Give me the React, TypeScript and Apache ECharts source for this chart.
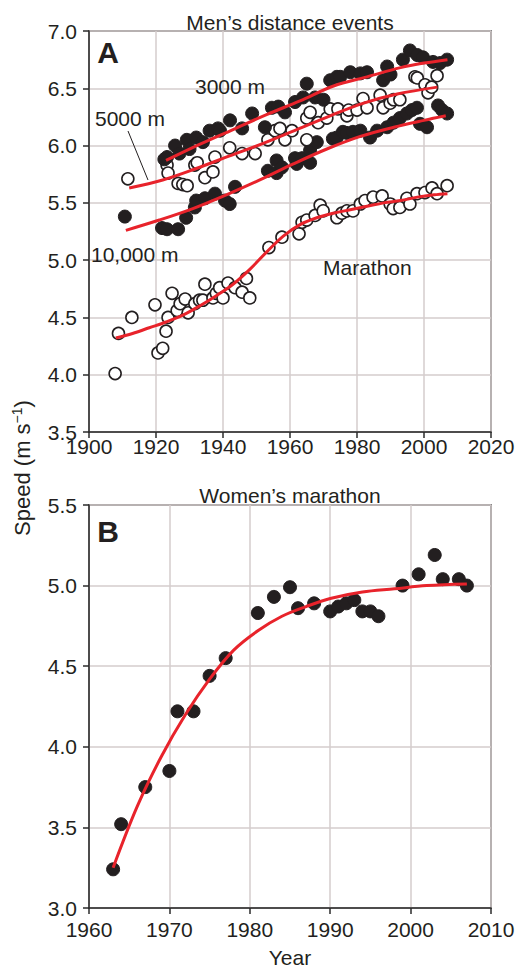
import React, { useEffect, useRef } from 'react';
import * as echarts from 'echarts';

const FONT = '"Liberation Sans", Arial, Helvetica, sans-serif';
const INK = '#231f20';
const RED = '#e8232b';

// Panel A: men's distance events (year, speed m/s)
const men3000: [number, number][] = [
  [1922.5, 5.88], [1923.3, 5.90], [1925.7, 6.00], [1927, 5.93], [1929.2, 6.05], [1930, 5.97],
  [1932, 6.07], [1934, 6.03], [1936, 6.13], [1938.5, 6.15], [1939.1, 6.13], [1942.1, 6.22],
  [1945.7, 6.15], [1948.7, 6.28], [1952.5, 6.16], [1954.6, 6.33], [1956.5, 6.34], [1958.5, 6.29],
  [1961.5, 6.38], [1963.9, 6.42], [1965, 6.54], [1967.5, 6.42], [1970, 6.40], [1972, 6.57],
  [1974, 6.60], [1975, 6.60], [1978, 6.64], [1981, 6.63], [1983, 6.64], [1987.8, 6.57],
  [1989, 6.69], [1990, 6.62], [1993.7, 6.75], [1995.8, 6.83], [1998, 6.79], [1999.7, 6.77],
  [2002.7, 6.73], [2004.8, 6.72], [2006.9, 6.75],
];
const men5000: [number, number][] = [
  [1911.6, 5.71], [1923.3, 5.83], [1923.6, 5.76], [1926.6, 5.67], [1928, 5.66], [1929.3, 5.65],
  [1931.6, 5.83], [1932.3, 5.85], [1934.6, 5.72], [1937, 5.77], [1937.6, 5.90], [1942, 5.98],
  [1945.7, 5.93], [1949.6, 5.93], [1953.4, 6.05], [1955.5, 6.13], [1957, 6.15], [1958.5, 6.05],
  [1960.6, 6.13], [1965, 6.05], [1965, 6.24], [1966, 6.29], [1968.4, 6.20], [1971, 6.24],
  [1972, 6.32], [1974.3, 6.32], [1977, 6.26], [1977.5, 6.31], [1980, 6.31], [1981.8, 6.41],
  [1983, 6.33], [1986.9, 6.44], [1987.8, 6.33], [1989.9, 6.37], [1990.9, 6.40], [1992.8, 6.40],
  [1997.3, 6.60], [1998, 6.59], [2000.3, 6.53], [2001.2, 6.46], [2002.3, 6.51], [2003.9, 6.61],
];
const men10000: [number, number][] = [
  [1910.7, 5.38], [1921.8, 5.28], [1923.3, 5.27], [1926.6, 5.27], [1929, 5.37], [1931.6, 5.46],
  [1932, 5.52], [1934.6, 5.54], [1937.6, 5.58], [1940.6, 5.52], [1942, 5.49], [1943.6, 5.64],
  [1953.4, 5.78], [1956, 5.76], [1956, 5.87], [1957.6, 5.81], [1961.5, 5.89], [1962, 5.84],
  [1963.6, 5.89], [1966, 5.85], [1966, 5.96], [1968, 6.03], [1972.8, 6.06], [1974, 6.07],
  [1975.8, 6.12], [1977, 6.11], [1978.8, 6.12], [1981, 6.13], [1983.9, 6.07], [1986, 6.13],
  [1989, 6.16], [1990.9, 6.20], [1992.8, 6.24], [1994.9, 6.28], [1996.4, 6.31], [1997.9, 6.33],
  [1998.8, 6.19], [2000.9, 6.16], [2004.2, 6.35], [2005.4, 6.31], [2006.9, 6.28],
];
const menMarathon: [number, number][] = [
  [1907.8, 4.01], [1908.8, 4.36], [1912.8, 4.50], [1919.7, 4.61], [1920.6, 4.19], [1922, 4.23],
  [1923, 4.38], [1923.6, 4.50], [1924.8, 4.71], [1926.3, 4.56], [1927.2, 4.62], [1928.7, 4.66],
  [1929.6, 4.54], [1931.6, 4.62], [1933, 4.65], [1934, 4.65], [1934.6, 4.79], [1937, 4.67],
  [1938, 4.71], [1939, 4.76], [1940, 4.67], [1941.5, 4.80], [1943.6, 4.76], [1945.7, 4.72],
  [1947, 4.84], [1948, 4.67], [1953.7, 5.11], [1957.6, 5.20], [1962.7, 5.23], [1963.6, 5.33],
  [1965, 5.35], [1967.5, 5.39], [1969, 5.48], [1969.9, 5.43], [1974, 5.37], [1975.5, 5.41],
  [1977, 5.43], [1978.8, 5.43], [1981, 5.49], [1982.4, 5.52], [1984.8, 5.55], [1987.5, 5.56],
  [1989.9, 5.49], [1990.8, 5.45], [1992.8, 5.46], [1994.9, 5.54], [1995.8, 5.49], [1997.9, 5.58],
  [2000.3, 5.59], [2002.4, 5.63], [2003.9, 5.58], [2006.9, 5.65],
];

// Fitted curves
const fit3000: [number, number][] = [
  [1923, 5.87], [1933, 6.01], [1943, 6.14], [1953, 6.27], [1963, 6.39], [1973, 6.52],
  [1983, 6.60], [1993, 6.68], [2000, 6.72], [2007, 6.75],
];
const fit5000: [number, number][] = [
  [1912, 5.63], [1922, 5.70], [1932, 5.80], [1942, 5.91], [1952, 6.02], [1962, 6.14],
  [1972, 6.26], [1982, 6.37], [1992, 6.45], [2004, 6.51],
];
const fit10000: [number, number][] = [
  [1911, 5.26], [1921, 5.35], [1931, 5.45], [1941, 5.57], [1951, 5.70], [1961, 5.84],
  [1971, 5.97], [1981, 6.08], [1991, 6.16], [2000, 6.22], [2006.5, 6.26],
];
const fitMarathon: [number, number][] = [
  [1908, 4.32], [1913, 4.36], [1918, 4.41], [1923, 4.46], [1928, 4.52], [1933, 4.60],
  [1938, 4.69], [1943, 4.79], [1948, 4.92], [1953, 5.07], [1958, 5.21], [1963, 5.31],
  [1968, 5.37], [1973, 5.41], [1978, 5.44], [1983, 5.47], [1988, 5.50], [1993, 5.52],
  [1998, 5.55], [2003, 5.57], [2007, 5.58],
];

// Panel B: women's marathon
const womenMarathon: [number, number][] = [
  [1963, 3.24], [1964, 3.52], [1967, 3.75], [1970, 3.85], [1971, 4.22], [1973, 4.22],
  [1975, 4.44], [1977, 4.55], [1981, 4.83], [1983, 4.93], [1985, 4.99], [1986, 4.86],
  [1988, 4.89], [1990, 4.84], [1991, 4.87], [1992, 4.89], [1993, 4.91], [1994, 4.84],
  [1995, 4.84], [1996, 4.81], [1999, 5.00], [2001, 5.07], [2003, 5.19], [2004, 5.04],
  [2006, 5.04], [2007, 5.00],
];
const fitWomen: [number, number][] = [
  [1963, 3.25], [1966, 3.63], [1969, 3.94], [1972, 4.20], [1975, 4.42], [1978, 4.60],
  [1981, 4.72], [1984, 4.81], [1987, 4.87], [1990, 4.92], [1994, 4.96], [1998, 4.98],
  [2002, 5.00], [2007, 5.01],
];

const axisBase = {
  axisLine: { show: true, onZero: false, lineStyle: { color: '#2b2b2b', width: 1.5 } },
  axisTick: { show: true, inside: false, length: 6, lineStyle: { color: '#2b2b2b', width: 1.5 } },
  splitLine: { show: true, lineStyle: { color: '#d5cdcd', width: 1.5 } },
};

const filled = (data: [number, number][], xi: number) => ({
  type: 'scatter', xAxisIndex: xi, yAxisIndex: xi, data, symbol: 'circle', symbolSize: 13,
  itemStyle: { color: INK, borderColor: INK, borderWidth: 1, opacity: 1 }, z: 2,
});
const open = (data: [number, number][], xi: number) => ({
  type: 'scatter', xAxisIndex: xi, yAxisIndex: xi, data, symbol: 'circle', symbolSize: 12,
  itemStyle: { color: '#ffffff', borderColor: INK, borderWidth: 1.6, opacity: 1 }, z: 2,
});
const curve = (data: [number, number][], xi: number) => ({
  type: 'line', xAxisIndex: xi, yAxisIndex: xi, data, smooth: 0.35,
  showSymbol: false, symbol: 'none', lineStyle: { color: RED, width: 3 }, z: 5,
});

const txt = (text: string, x: number, y: number, size = 20, weight = 'normal', align = 'center') => ({
  type: 'text', x, y, z: 10,
  style: { text, fill: INK, fontSize: size, fontWeight: weight, fontFamily: FONT, align, verticalAlign: 'middle' },
});

const tickLabel = (margin: number, fmt: (v: number) => string) => ({
  fontSize: 21, lineHeight: 14, color: INK, margin, fontFamily: FONT, formatter: fmt,
});

export default function App() {
  const ref = useRef<HTMLDivElement>(null);
  useEffect(() => {
    const chart = echarts.init(ref.current!, null, { renderer: 'svg' });
    const year = (v: number) => String(Math.round(v));
    const speed = (v: number) => v.toFixed(1);
    chart.setOption({
      animation: false,
      backgroundColor: '#ffffff',
      textStyle: { fontFamily: FONT, color: INK },
      grid: [
        { left: 89, top: 31, width: 402, height: 401, show: true, borderColor: '#2b2b2b', borderWidth: 1.5 },
        { left: 89, top: 505, width: 402, height: 403, show: true, borderColor: '#2b2b2b', borderWidth: 1.5 },
      ],
      xAxis: [
        { ...axisBase, type: 'value', gridIndex: 0, min: 1900, max: 2020, interval: 20, axisLabel: tickLabel(7, year) },
        { ...axisBase, type: 'value', gridIndex: 1, min: 1960, max: 2010, interval: 10, axisLabel: tickLabel(14, year) },
      ],
      yAxis: [
        { ...axisBase, type: 'value', gridIndex: 0, min: 3.5, max: 7.0, interval: 0.5, axisLabel: tickLabel(12, speed) },
        { ...axisBase, type: 'value', gridIndex: 1, min: 3.0, max: 5.5, interval: 0.5, axisLabel: tickLabel(12, speed) },
      ],
      series: [
        open(menMarathon, 0),
        filled(men10000, 0),
        open(men5000, 0),
        filled(men3000, 0),
        curve(fitMarathon, 0),
        curve(fit10000, 0),
        curve(fit5000, 0),
        curve(fit3000, 0),
        filled(womenMarathon, 1),
        curve(fitWomen, 1),
      ],
      graphic: [
        txt('Men\u2019s distance events', 290, 22, 21),
        txt('Women\u2019s marathon', 290, 495, 21),
        txt('A', 108, 52, 30, 'bold'),
        txt('B', 108, 531, 30, 'bold'),
        txt('3000 m', 195, 86, 21, 'normal', 'left'),
        txt('5000 m', 95, 118, 21, 'normal', 'left'),
        txt('10,000 m', 91, 254, 21, 'normal', 'left'),
        txt('Marathon', 323, 267, 21, 'normal', 'left'),
        txt('Year', 290, 957, 21),
        {
          type: 'line', z: 10,
          shape: { x1: 128, y1: 131, x2: 148, y2: 180 },
          style: { stroke: INK, lineWidth: 1 },
        },
        {
          type: 'text', x: 22, y: 468, rotation: Math.PI / 2, z: 10,
          style: {
            text: 'Speed (m s{sup|\u22121})',
            fill: INK, fontSize: 22, fontFamily: FONT, align: 'center', verticalAlign: 'middle',
            rich: { sup: { fontSize: 14, fontFamily: FONT, fill: INK, verticalAlign: 'top', lineHeight: 24 } },
          },
        },
      ],
    });
    return () => chart.dispose();
  }, []);
  return (
    <div
      ref={ref}
      style={{ position: 'absolute', left: 0, top: 0, width: 522, height: 968, background: '#fff' }}
    />
  );
}
